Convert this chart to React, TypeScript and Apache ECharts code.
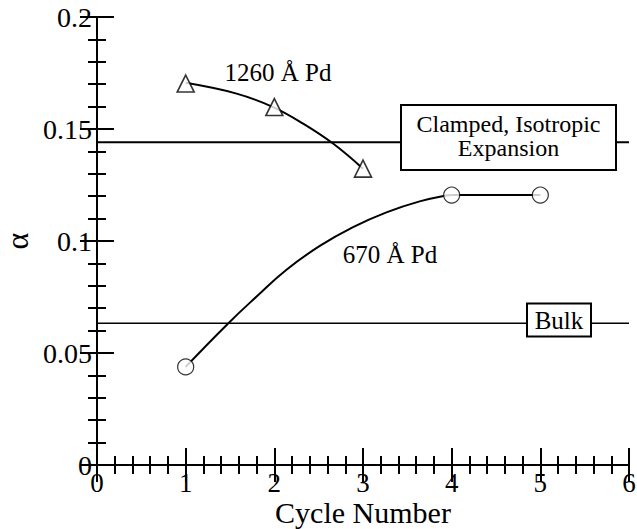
import React, { useEffect, useRef } from "react";
import * as echarts from "echarts";

// Data
const cycles1260 = [1, 2, 3];
const alpha1260 = [0.1703, 0.1598, 0.1323];
const cycles670 = [1, 4, 5];
const alpha670 = [0.0438, 0.1205, 0.1205];

// Fitted guide curves
const fit1260X = [1, 1.574, 1.986, 2.325, 2.662, 3];
const fit1260Y = [0.1706, 0.1658, 0.1598, 0.1524, 0.1435, 0.1323];
const fit670X = [1, 1.479, 1.8, 2.137, 2.513, 2.888, 3.264, 3.639, 3.94, 4];
const fit670Y = [0.0438, 0.0632, 0.0752, 0.0872, 0.0978, 0.1062, 0.1128, 0.1177, 0.1203, 0.1205];
const tail670X = [4, 5];
const tail670Y = [0.1205, 0.1205];

// Reference levels
const clampedLevel = 0.1441;
const bulkLevel = 0.0633;

const xRange = [0, 6];
const yRange = [0, 0.2];

const FONT = "'Liberation Serif', 'Times New Roman', serif";

const zip = (xs: number[], ys: number[]) => xs.map((x, i) => [x, ys[i]]);

export default function App() {
  const ref = useRef<HTMLDivElement>(null);
  useEffect(() => {
    if (!ref.current) return;
    const chart = echarts.init(ref.current, null, { renderer: "svg" });
    const axisCommon = {
      type: "value" as const,
      axisLine: { show: true, lineStyle: { color: "#000", width: 2 } },
      axisTick: { show: true, inside: true, length: 17, lineStyle: { color: "#000", width: 2 } },
      minorTick: { show: true, splitNumber: 5, length: 9, lineStyle: { color: "#000", width: 2 } },
      splitLine: { show: false },
      minorSplitLine: { show: false },
    };
    chart.setOption({
      animation: false,
      backgroundColor: "#fff",
      grid: { left: 97, right: 8, top: 17, bottom: 64, containLabel: false, outerBoundsMode: "none" },
      xAxis: [
        {
          ...axisCommon,
          min: xRange[0],
          max: xRange[1],
          interval: 1,
          position: "bottom",
          name: "Cycle Number",
          nameLocation: "middle",
          nameGap: 32,
          nameMoveOverlap: false,
          nameTextStyle: { fontFamily: FONT, fontSize: 30, color: "#000" },
          axisLabel: { fontFamily: FONT, fontSize: 27, color: "#000", margin: 4 },
        },
        {
          ...axisCommon,
          min: xRange[0],
          max: xRange[1],
          interval: 1,
          position: "top",
          axisLabel: { show: false },
        },
      ],
      yAxis: [
        {
          ...axisCommon,
          min: yRange[0],
          max: yRange[1],
          interval: 0.05,
          position: "left",
          name: "α",
          nameLocation: "middle",
          nameGap: 64,
          nameRotate: 90,
          nameMoveOverlap: false,
          nameTextStyle: { fontFamily: FONT, fontSize: 32, color: "#000" },
          axisLabel: { fontFamily: FONT, fontSize: 28, color: "#000", margin: 5 },
        },
        {
          ...axisCommon,
          min: yRange[0],
          max: yRange[1],
          interval: 0.05,
          position: "right",
          axisLabel: { show: false },
        },
      ],
      series: [
        {
          type: "line",
          data: zip(xRange, [clampedLevel, clampedLevel]),
          symbol: "none",
          lineStyle: { color: "#000", width: 2 },
          z: 1,
        },
        {
          type: "line",
          data: zip(xRange, [bulkLevel, bulkLevel]),
          symbol: "none",
          lineStyle: { color: "#000", width: 1.6 },
          z: 1,
        },
        {
          type: "line",
          data: zip(fit1260X, fit1260Y),
          symbol: "none",
          smooth: 0.4,
          lineStyle: { color: "#000", width: 2 },
          z: 2,
        },
        {
          type: "line",
          data: zip(fit670X, fit670Y),
          symbol: "none",
          smooth: 0.45,
          lineStyle: { color: "#000", width: 2 },
          z: 2,
        },
        {
          type: "line",
          data: zip(tail670X, tail670Y),
          symbol: "none",
          lineStyle: { color: "#000", width: 2 },
          z: 2,
        },
        {
          type: "scatter",
          data: zip(cycles1260, alpha1260),
          symbol: "triangle",
          symbolSize: 17,
          itemStyle: { color: "#fff", borderColor: "#000", borderWidth: 1.6 },
          z: 5,
        },
        {
          type: "scatter",
          data: zip(cycles670, alpha670),
          symbol: "circle",
          symbolSize: 16,
          itemStyle: { color: "#fff", borderColor: "#000", borderWidth: 1.2 },
          z: 5,
        },
      ],
      graphic: [
        {
          type: "text",
          x: 278,
          y: 72,
          style: { text: "1260 Å Pd", font: `25px ${FONT}`, fill: "#000", align: "center", verticalAlign: "middle" },
        },
        {
          type: "text",
          x: 390,
          y: 254,
          style: { text: "670 Å Pd", font: `25px ${FONT}`, fill: "#000", align: "center", verticalAlign: "middle" },
        },
        {
          type: "rect",
          shape: { x: 401, y: 105, width: 215, height: 65 },
          style: { fill: "#fff", stroke: "#000", lineWidth: 2 },
          z: 10,
        },
        {
          type: "text",
          x: 508.5,
          y: 123.5,
          z: 11,
          style: { text: "Clamped, Isotropic", font: `24px ${FONT}`, fill: "#000", align: "center", verticalAlign: "middle" },
        },
        {
          type: "text",
          x: 508.5,
          y: 147.5,
          z: 11,
          style: { text: "Expansion", font: `24px ${FONT}`, fill: "#000", align: "center", verticalAlign: "middle" },
        },
        {
          type: "rect",
          shape: { x: 527, y: 303.5, width: 64, height: 33 },
          style: { fill: "#fff", stroke: "#000", lineWidth: 2 },
          z: 10,
        },
        {
          type: "text",
          x: 559,
          y: 320,
          z: 11,
          style: { text: "Bulk", font: `25px ${FONT}`, fill: "#000", align: "center", verticalAlign: "middle" },
        },
      ],
    });
    return () => chart.dispose();
  }, []);
  return <div ref={ref} style={{ position: "absolute", left: 0, top: 0, width: 637, height: 529 }} />;
}
